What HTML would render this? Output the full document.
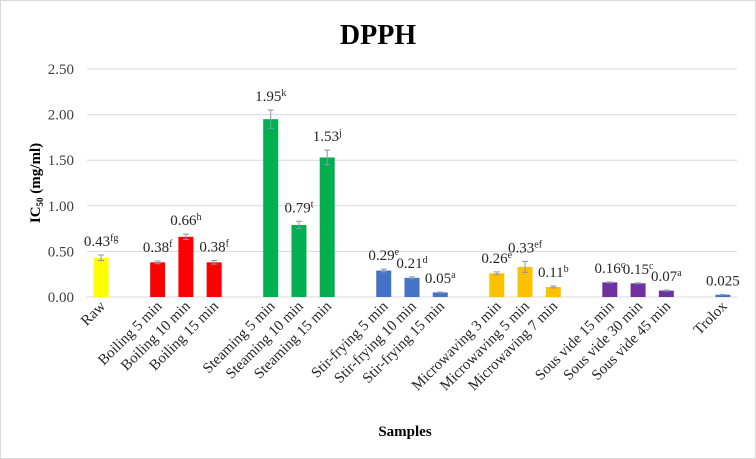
<!DOCTYPE html>
<html><head><meta charset="utf-8"><style>
body{margin:0;background:#fff}
svg{display:block;font-family:"Liberation Serif",serif}
</style></head><body>
<svg id="chart" width="756" height="459">
<rect x="0.5" y="0.5" width="755" height="458" fill="#fff" stroke="#d9d9d9"/>
<text x="378" y="44" text-anchor="middle" font-size="28" font-weight="bold">DPPH</text>
<text x="405" y="436" text-anchor="middle" font-size="15" font-weight="bold">Samples</text>
<text transform="translate(40,183) rotate(-90)" text-anchor="middle" font-size="15" font-weight="bold">IC<tspan font-size="9" dy="3">50</tspan><tspan dy="-3"> (mg/ml)</tspan></text>
<g id="grid"></g><g id="bars"></g><g id="xlabels"></g>
</svg>
<script>
const categories=["Raw","Boiling 5 min","Boiling 10 min","Boiling 15 min","Steaming 5 min","Steaming 10 min","Steaming 15 min","Stir-frying 5 min","Stir-frying 10 min","Stir-frying 15 min","Microwaving 3 min","Microwaving 5 min","Microwaving 7 min","Sous vide 15 min","Sous vide 30 min","Sous vide 45 min","Trolox"];
const slots=[0,2,3,4,6,7,8,10,11,12,14,15,16,18,19,20,22];
const values=[0.43,0.38,0.66,0.38,1.95,0.79,1.53,0.29,0.21,0.05,0.26,0.33,0.11,0.16,0.15,0.07,0.025];
const errors=[0.03,0.015,0.03,0.02,0.1,0.04,0.08,0.015,0.01,0.005,0.015,0.06,0.01,0.005,0.005,0.005,0.003];
const valueLabels=["0.43","0.38","0.66","0.38","1.95","0.79","1.53","0.29","0.21","0.05","0.26","0.33","0.11","0.16","0.15","0.07","0.025"];
const letters=["fg","f","h","f","k","t","j","e","d","a","e","ef","b","c","c","a",""];
const colors=["#ffff00","#ff0000","#ff0000","#ff0000","#00b050","#00b050","#00b050","#4472c4","#4472c4","#4472c4","#ffc000","#ffc000","#ffc000","#7030a0","#7030a0","#7030a0","#4472c4"];
const yTicks=[0,0.5,1,1.5,2,2.5];
const NS="http://www.w3.org/2000/svg";
const x0=87,x1=737,slotW=(x1-x0)/23;
const yScale=v=>297-v*(297-69)/2.5;
const xScale=s=>x0+slotW*(s+0.5);
function mk(t,a,p){const e=document.createElementNS(NS,t);for(const k in a)e.setAttribute(k,a[k]);p.appendChild(e);return e;}
const grid=document.getElementById('grid');
yTicks.forEach(v=>{
 const l=mk('line',{x1:x0,x2:x1,y1:yScale(v),y2:yScale(v),stroke:'#d9d9d9'},grid);
 
 
 const t=mk('text',{x:74,y:yScale(v)+5,'text-anchor':'end','font-size':15,fill:'#404040'},grid);
 t.textContent=v.toFixed(2);
 
 
});
const bars=document.getElementById('bars'),xl=document.getElementById('xlabels');
values.forEach((v,i)=>{
 const cx=xScale(slots[i]),w=15,y=yScale(v);
 const r=mk('rect',{x:cx-w/2,y:y,width:w,height:297-y,fill:colors[i]},bars);
 
 
 const ey1=yScale(v+errors[i]),ey2=yScale(Math.max(0,v-errors[i]));
 const eb=mk('path',{d:`M${cx},${ey1}V${ey2}M${cx-3},${ey1}H${cx+3}M${cx-3},${ey2}H${cx+3}`,stroke:'#8497b0','stroke-width':1,fill:'none'},bars);
 
 
 const t=mk('text',{x:cx,y:ey1-9,'text-anchor':'middle','font-size':15,fill:'#262626'},bars);
 t.innerHTML=valueLabels[i]+(letters[i]?`<tspan font-size="10" dy="-5">${letters[i]}</tspan>`:'');
 
 
 const c=mk('text',{transform:`translate(${cx+5},${307}) rotate(-45)`,'text-anchor':'end','font-size':15,fill:'#262626'},xl);
 c.textContent=categories[i];
 
 
});
</script>
</body></html>
